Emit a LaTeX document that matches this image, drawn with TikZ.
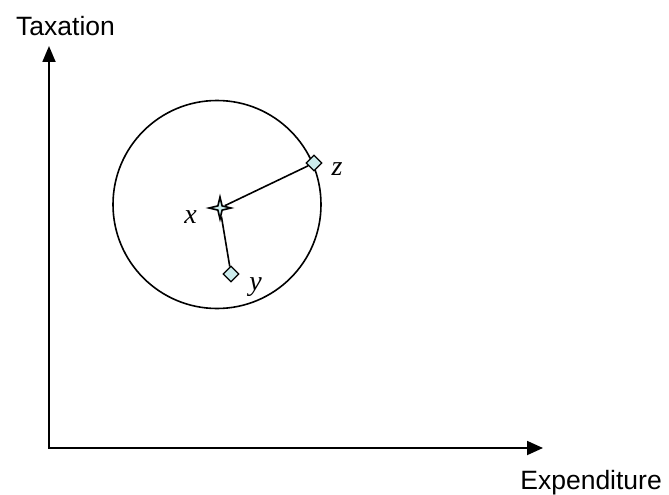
\documentclass[tikz,border=0pt]{standalone}
\usepackage{fontspec}
\setmainfont{Liberation Serif}
\newfontfamily\axisfont{Liberation Sans}
\usetikzlibrary{shapes.geometric,arrows.meta}
\definecolor{ptfill}{RGB}{204,236,236}
\begin{document}
\begin{tikzpicture}[x=1pt,y=-1pt,
  axisline/.style={line width=1.8pt,{Triangle[length=16pt,width=13pt]}-{Triangle[length=16pt,width=14pt]}},
  axislabel/.style={font=\axisfont\fontsize{26.5}{30}\selectfont,inner sep=0pt},
  ptlabel/.style={font=\itshape\fontsize{28}{32}\selectfont,inner sep=0pt},
  ptdiamond/.style={diamond,draw,fill=ptfill,line width=1.3pt,minimum size=16pt,inner sep=0pt},
  ptstar/.style={star,star points=4,star point height=8pt,draw,fill=ptfill,line width=1.6pt,minimum size=22pt,inner sep=0pt},
  link/.style={line width=1.6pt}
]
\useasboundingbox (0,0) rectangle (669,495);
\coordinate (ytip) at (49,46);
\coordinate (origin) at (49,448);
\coordinate (xtip) at (543,448);
\draw[axisline] (ytip) -- (origin) -- (xtip);
\node[axislabel,anchor=base] (taxlab) at (65.5,36) {Taxation};
\node[axislabel,anchor=base east] (explab) at (662,489) {Expenditure};
\node[circle,draw,line width=1.6pt,minimum size=208pt,inner sep=0pt] (ball) at (217,204.5) {};
\node[ptstar] (x) at (220,208) {};
\node[ptdiamond] (z) at (314,163) {};
\node[ptdiamond] (y) at (231,274) {};
\draw[link] (z) -- (x);
\draw[link] (y) -- (x);
\node[ptlabel,anchor=base] (xlab) at (190.5,223) {x};
\node[ptlabel,anchor=base] (zlab) at (337,175) {z};
\node[ptlabel,anchor=base] (ylab) at (255.5,290) {y};
\end{tikzpicture}
\end{document}
